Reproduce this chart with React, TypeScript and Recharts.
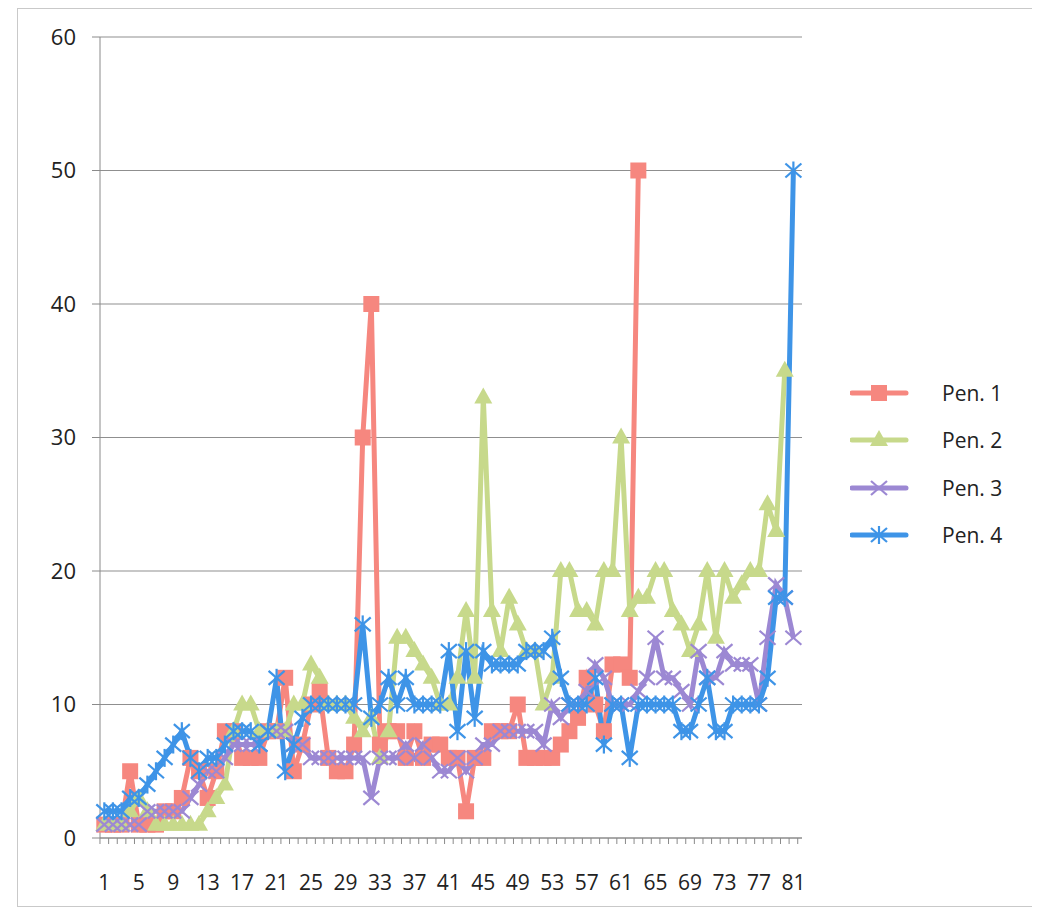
import React from "react";
import { LineChart, Line, XAxis, YAxis, CartesianGrid, Legend } from "recharts";

const categories = Array.from({ length: 81 }, (_, i) => i + 1);

const pen1 = [
  1, 1, 1, 5, 1, 1, 1, 2, 2, 3,
  6, 5, 3, 5, 8, 8, 6, 6, 6, 8,
  8, 12, 5, 7, 10, 11, 6, 5, 5, 7,
  30, 40, 7, 8, 8, 6, 8, 6, 7, 7,
  6, 6, 2, 6, 6, 8, 8, 8, 10, 6,
  6, 6, 6, 7, 8, 9, 12, 10, 8, 13,
  13, 12, 50,
];
const pen2 = [
  1, 1, 1, 2, 3, 2, 1, 1, 1, 1,
  1, 1, 2, 3, 4, 8, 10, 10, 8, 8,
  8, 8, 10, 10, 13, 12, 10, 10, 10, 9,
  8, 9, 6, 8, 15, 15, 14, 13, 12, 10,
  10, 12, 17, 12, 33, 17, 14, 18, 16, 14,
  14, 10, 12, 20, 20, 17, 17, 16, 20, 20,
  30, 17, 18, 18, 20, 20, 17, 16, 14, 16,
  20, 15, 20, 18, 19, 20, 20, 25, 23, 35,
];
const pen3 = [
  1, 1, 1, 1, 1, 2, 2, 2, 2, 2,
  3, 4, 5, 5, 6, 7, 7, 7, 7, 8,
  8, 8, 7, 7, 6, 6, 6, 6, 6, 6,
  6, 3, 6, 6, 6, 7, 6, 7, 6, 5,
  5, 6, 5, 6, 7, 7, 8, 8, 8, 8,
  8, 7, 10, 9, 10, 10, 11, 13, 12, 10,
  10, 10, 11, 12, 15, 12, 12, 11, 10, 14,
  12, 12, 14, 13, 13, 13, 10, 15, 19, 18,
  15,
];
const pen4 = [
  2, 2, 2, 3, 3, 4, 5, 6, 7, 8,
  6, 5, 6, 6, 7, 8, 8, 8, 7, 8,
  12, 5, 7, 9, 10, 10, 10, 10, 10, 10,
  16, 9, 10, 12, 10, 12, 10, 10, 10, 10,
  14, 8, 14, 9, 14, 13, 13, 13, 13, 14,
  14, 14, 15, 12, 10, 10, 10, 12, 7, 10,
  10, 6, 10, 10, 10, 10, 10, 8, 8, 10,
  12, 8, 8, 10, 10, 10, 10, 12, 18, 18,
  50,
];

const seriesNames = ["Pen. 1", "Pen. 2", "Pen. 3", "Pen. 4"];
const seriesKeys = ["p1", "p2", "p3", "p4"];
const seriesColors = ["#F6877F", "#C7D98B", "#9C88D3", "#3E94E7"];
const yTicks = [0, 10, 20, 30, 40, 50, 60];
const xLabels = [1, 5, 9, 13, 17, 21, 25, 29, 33, 37, 41, 45, 49, 53, 57, 61, 65, 69, 73, 77, 81];

const data = categories.map((c, i) => ({
  cat: c,
  p1: pen1[i] ?? null,
  p2: pen2[i] ?? null,
  p3: pen3[i] ?? null,
  p4: pen4[i] ?? null,
}));

const FONT = "'Open Sans', 'Liberation Sans', sans-serif";
const PLOT_BOTTOM = 830;
const STEP = 702 / 81;
const LEGEND_W = 180;

function Marker({ kind, cx, cy, color }: { kind: number; cx: number; cy: number; color: string }) {
  if (kind === 0) {
    return <rect x={cx - 8} y={cy - 8} width={16} height={16} fill={color} />;
  }
  if (kind === 1) {
    return <polygon points={`${cx},${cy - 10} ${cx - 9},${cy + 6} ${cx + 9},${cy + 6}`} fill={color} />;
  }
  if (kind === 2) {
    return (
      <g stroke={color} strokeWidth={2.2}>
        <line x1={cx - 8} y1={cy - 7} x2={cx + 8} y2={cy + 7} />
        <line x1={cx - 8} y1={cy + 7} x2={cx + 8} y2={cy - 7} />
      </g>
    );
  }
  return (
    <g stroke={color} strokeWidth={2.2}>
      <line x1={cx - 8} y1={cy - 7} x2={cx + 8} y2={cy + 7} />
      <line x1={cx - 8} y1={cy + 7} x2={cx + 8} y2={cy - 7} />
      <line x1={cx} y1={cy - 9} x2={cx} y2={cy + 9} />
    </g>
  );
}

const makeDot = (kind: number, color: string) => (props: any) => {
  const { cx, cy, value, index } = props;
  if (value == null || cx == null || cy == null) return <g key={`d-${kind}-${index}`} />;
  return <Marker key={`d-${kind}-${index}`} kind={kind} cx={cx} cy={cy} color={color} />;
};

function XTick(props: any) {
  const { x, payload } = props;
  const v = payload.value;
  return (
    <g>
      <line x1={x + STEP / 2} y1={PLOT_BOTTOM} x2={x + STEP / 2} y2={PLOT_BOTTOM + 6} stroke="#8a8a8a" />
      {v === 1 && <line x1={x - STEP / 2} y1={PLOT_BOTTOM} x2={x - STEP / 2} y2={PLOT_BOTTOM + 6} stroke="#8a8a8a" />}
      {xLabels.includes(v) && (
        <text x={x} y={PLOT_BOTTOM + 52} textAnchor="middle" fontSize={21} fill="#222" fontFamily={FONT}>
          {v}
        </text>
      )}
    </g>
  );
}

function LegendBox() {
  return (
    <div style={{ fontFamily: FONT, fontSize: 21, color: "#222" }}>
      {seriesNames.map((name, i) => (
        <div key={name} style={{ height: 47.5, display: "flex", alignItems: "center" }}>
          <svg width={60} height={24} style={{ display: "block" }}>
            <line x1={2} y1={12} x2={56} y2={12} stroke={seriesColors[i]} strokeWidth={5} strokeLinecap="round" />
            <Marker kind={i} cx={29} cy={12} color={seriesColors[i]} />
          </svg>
          <span style={{ marginLeft: 32 }}>{name}</span>
        </div>
      ))}
    </div>
  );
}

export default function App() {
  return (
    <div style={{ position: "relative", width: 1024, height: 906 }}>
      <div
        style={{
          position: "absolute",
          left: 9,
          top: 0,
          width: 1018,
          height: 897,
          border: "1px solid #c9c9c9",
        }}
      />
      <LineChart
        width={1024}
        height={906}
        data={data}
        margin={{ top: 29, right: 230 - LEGEND_W, bottom: 26, left: 0 }}
      >
        <CartesianGrid vertical={false} stroke="#8f8f8f" strokeWidth={1} />
        <XAxis
          dataKey="cat"
          type="number"
          domain={[0.5, 81.5]}
          ticks={categories}
          interval={0}
          tick={<XTick />}
          tickLine={false}
          axisLine={{ stroke: "#8a8a8a" }}
          height={50}
          allowDecimals={false}
        />
        <YAxis
          domain={[0, 60]}
          ticks={yTicks}
          width={92}
          tickSize={8}
          tickMargin={16}
          tickLine={{ stroke: "#8a8a8a" }}
          axisLine={{ stroke: "#8a8a8a" }}
          tick={{ fontSize: 22, fill: "#222", fontFamily: FONT }}
        />
        <Legend
          layout="vertical"
          align="right"
          verticalAlign="middle"
          content={() => <LegendBox />}
          wrapperStyle={{ left: 842, top: 361, width: LEGEND_W }}
        />
        {seriesKeys.map((k, i) => (
          <Line
            key={k}
            dataKey={k}
            name={seriesNames[i]}
            stroke={seriesColors[i]}
            strokeWidth={5}
            dot={makeDot(i, seriesColors[i])}
            activeDot={false}
            isAnimationActive={false}
            connectNulls={false}
          />
        ))}
      </LineChart>
    </div>
  );
}
